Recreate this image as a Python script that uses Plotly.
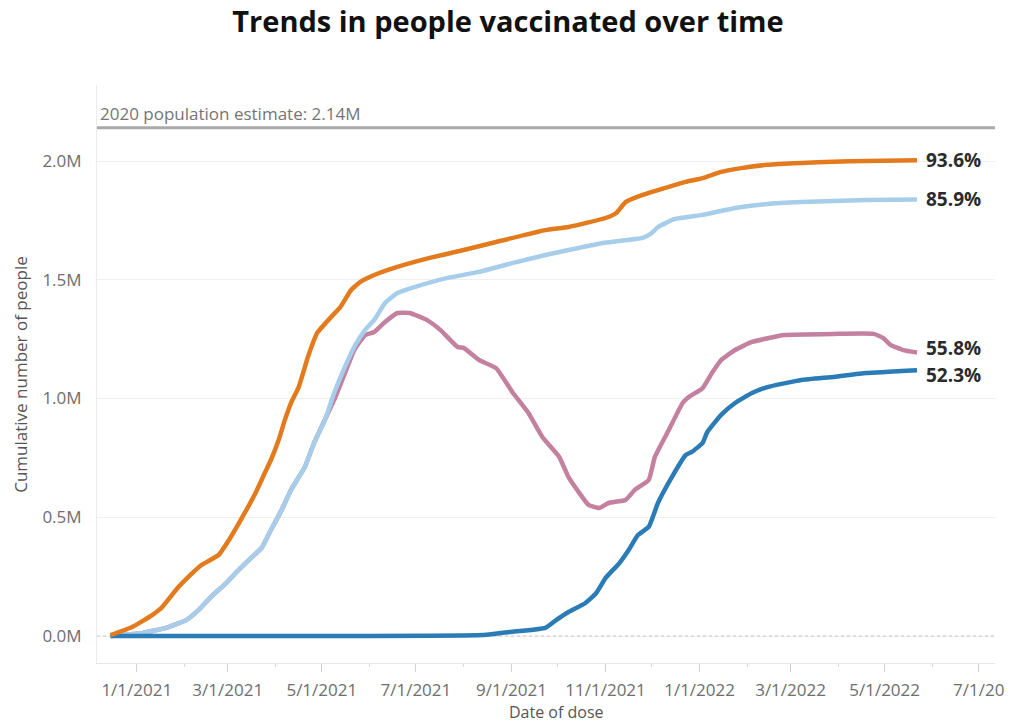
import plotly.graph_objects as go

# Cumulative people vaccinated (millions) by date of dose
POPULATION_M = 2.14

at_least_one_dates = [
    "2020-12-15", "2020-12-29", "2021-01-11", "2021-01-17", "2021-01-28", "2021-02-06",
    "2021-02-12", "2021-02-23", "2021-03-03", "2021-03-12", "2021-03-19", "2021-03-25",
    "2021-03-29", "2021-04-03", "2021-04-07", "2021-04-11", "2021-04-16", "2021-04-22",
    "2021-04-28", "2021-05-07", "2021-05-13", "2021-05-20", "2021-05-26", "2021-06-04",
    "2021-06-19", "2021-07-10", "2021-08-01", "2021-08-22", "2021-09-23", "2021-10-08",
    "2021-11-01", "2021-11-08", "2021-11-14", "2021-11-25", "2021-12-12", "2021-12-23",
    "2022-01-03", "2022-01-15", "2022-01-28", "2022-02-14", "2022-03-08", "2022-03-29",
    "2022-04-19", "2022-05-22",
]
at_least_one_values = [
    0.004, 0.038, 0.088, 0.118, 0.206, 0.265,
    0.299, 0.341, 0.417, 0.518, 0.602, 0.686,
    0.741, 0.825, 0.909, 0.981, 1.048, 1.175,
    1.276, 1.343, 1.385, 1.457, 1.491, 1.520,
    1.554, 1.592, 1.625, 1.659, 1.709, 1.722,
    1.760, 1.781, 1.827, 1.857, 1.891, 1.912,
    1.928, 1.954, 1.970, 1.984, 1.992, 1.997,
    2.000, 2.003,
]

completed_dates = [
    "2020-12-15", "2021-01-05", "2021-01-20", "2021-02-02", "2021-02-10", "2021-02-18",
    "2021-02-28", "2021-03-08", "2021-03-16", "2021-03-23", "2021-03-29", "2021-04-05",
    "2021-04-11", "2021-04-20", "2021-04-26", "2021-05-03", "2021-05-09", "2021-05-16",
    "2021-05-22", "2021-05-29", "2021-06-04", "2021-06-11", "2021-06-19", "2021-06-30",
    "2021-07-21", "2021-08-11", "2021-09-02", "2021-09-23", "2021-10-08", "2021-10-30",
    "2021-11-25", "2021-12-01", "2021-12-05", "2021-12-16", "2022-01-03", "2022-01-24",
    "2022-02-14", "2022-03-08", "2022-04-19", "2022-05-22",
]
completed_values = [
    0.000, 0.013, 0.034, 0.067, 0.109, 0.164,
    0.223, 0.278, 0.328, 0.371, 0.446, 0.531,
    0.615, 0.712, 0.813, 0.909, 1.023, 1.133,
    1.217, 1.288, 1.331, 1.402, 1.444, 1.469,
    1.507, 1.533, 1.571, 1.604, 1.625, 1.655,
    1.676, 1.697, 1.722, 1.756, 1.773, 1.802,
    1.819, 1.827, 1.836, 1.838,
]

up_to_date_dates = [
    "2020-12-15", "2021-01-05", "2021-01-20", "2021-02-02", "2021-02-10", "2021-02-18",
    "2021-02-28", "2021-03-08", "2021-03-16", "2021-03-23", "2021-03-29", "2021-04-05",
    "2021-04-11", "2021-04-20", "2021-04-26", "2021-05-09", "2021-05-16", "2021-05-22",
    "2021-05-29", "2021-06-04", "2021-06-11", "2021-06-19", "2021-06-27", "2021-07-08",
    "2021-07-17", "2021-07-28", "2021-08-01", "2021-08-11", "2021-08-22", "2021-09-02",
    "2021-09-12", "2021-09-21", "2021-10-02", "2021-10-08", "2021-10-21", "2021-10-28",
    "2021-11-03", "2021-11-14", "2021-11-20", "2021-11-29", "2021-12-03", "2021-12-12",
    "2021-12-21", "2021-12-25", "2022-01-03", "2022-01-09", "2022-01-15", "2022-01-24",
    "2022-02-04", "2022-02-25", "2022-03-29", "2022-04-24", "2022-04-30", "2022-05-05",
    "2022-05-13", "2022-05-22",
]
up_to_date_values = [
    0.000, 0.013, 0.034, 0.067, 0.109, 0.164,
    0.223, 0.278, 0.328, 0.371, 0.446, 0.531,
    0.615, 0.712, 0.813, 0.994, 1.107, 1.204,
    1.267, 1.280, 1.322, 1.360, 1.360, 1.331,
    1.288, 1.217, 1.213, 1.162, 1.128, 1.023,
    0.939, 0.838, 0.754, 0.669, 0.552, 0.539,
    0.560, 0.573, 0.615, 0.657, 0.754, 0.867,
    0.981, 1.006, 1.044, 1.107, 1.162, 1.204,
    1.238, 1.267, 1.272, 1.272, 1.255, 1.225,
    1.204, 1.194,
]

booster_dates = [
    "2020-12-15", "2021-08-14", "2021-08-31", "2021-09-23", "2021-09-30", "2021-10-08",
    "2021-10-19", "2021-10-26", "2021-11-01", "2021-11-10", "2021-11-16", "2021-11-22",
    "2021-11-29", "2021-12-05", "2021-12-14", "2021-12-23", "2021-12-27", "2022-01-03",
    "2022-01-06", "2022-01-15", "2022-01-24", "2022-02-04", "2022-02-14", "2022-03-08",
    "2022-03-29", "2022-04-19", "2022-05-22",
]
booster_values = [
    0.000, 0.004, 0.017, 0.034, 0.067, 0.101,
    0.139, 0.181, 0.244, 0.307, 0.362, 0.425,
    0.459, 0.560, 0.669, 0.762, 0.775, 0.813,
    0.859, 0.931, 0.981, 1.023, 1.048, 1.078,
    1.091, 1.107, 1.119,
]

x_tick_dates = [
    "2021-01-01", "2021-03-01", "2021-05-01", "2021-07-01", "2021-09-01",
    "2021-11-01", "2022-01-01", "2022-03-01", "2022-05-01", "2022-07-01",
]
x_tick_labels = [
    "1/1/2021", "3/1/2021", "5/1/2021", "7/1/2021", "9/1/2021",
    "11/1/2021", "1/1/2022", "3/1/2022", "5/1/2022", "7/1/20",
]
y_tick_values = [0.0, 0.5, 1.0, 1.5, 2.0]
y_tick_labels = ["0.0M", "0.5M", "1.0M", "1.5M", "2.0M"]

# (name, dates, values, colour, vertical nudge of the end label in px)
series = [
    ("Up to date", up_to_date_dates, up_to_date_values, "#c4809f", 4.5),
    ("Completed series", completed_dates, completed_values, "#a6cdea", 0),
    ("Booster", booster_dates, booster_values, "#2a7bb6", -4.5),
    ("At least one dose", at_least_one_dates, at_least_one_values, "#e37b1e", 0),
]

FONT = "Open Sans, Noto Sans, sans-serif"
TICK_FONT = dict(family=FONT, size=17, color="#6e6e6e")
x_start, x_end = "2020-12-06 05:00", "2022-07-11 14:00"

fig = go.Figure()

# population reference line
fig.add_trace(go.Scatter(
    x=[x_start, x_end], y=[POPULATION_M, POPULATION_M], mode="lines",
    line=dict(color="#a9a9a9", width=3), hoverinfo="skip", showlegend=False,
))
# dotted zero baseline
fig.add_trace(go.Scatter(
    x=[x_start, x_end], y=[0, 0], mode="lines",
    line=dict(color="#c4c4c4", width=1, dash="dot"), hoverinfo="skip", showlegend=False,
))

for name, xs, ys, color, _ in series:
    fig.add_trace(go.Scatter(
        x=xs, y=ys, mode="lines", name=name,
        line=dict(color=color, width=4.5, shape="spline", smoothing=0.4), showlegend=False,
    ))

annotations = []
for name, xs, ys, color, nudge in series:
    pct = ys[-1] / POPULATION_M * 100
    annotations.append(dict(
        x=xs[-1], y=ys[-1], xref="x", yref="y", text=f"{pct:.1f}%",
        showarrow=False, xanchor="left", yanchor="middle", xshift=7, yshift=nudge,
        font=dict(family=FONT, size=19, color="#2b2b2b", weight="bold"),
    ))

annotations.append(dict(
    x=x_start, y=POPULATION_M, xref="x", yref="y", xanchor="left", yanchor="bottom",
    xshift=1, yshift=1, showarrow=False, text=f"2020 population estimate: {POPULATION_M:.2f}M",
    font=dict(family=FONT, size=17, color="#757575"),
))
annotations.append(dict(
    x=-0.086, y=0.5, xref="paper", yref="paper", textangle=-90, showarrow=False,
    xanchor="center", yanchor="middle", text="Cumulative number of people",
    font=dict(family=FONT, size=17, color="#555555"),
))
annotations.append(dict(
    x=0.512, y=-0.085, xref="paper", yref="paper", showarrow=False,
    xanchor="center", yanchor="middle", text="Date of dose",
    font=dict(family=FONT, size=16, color="#555555"),
))

fig.update_layout(
    width=1016, height=723,
    margin=dict(l=97, r=13, t=85, b=60),
    paper_bgcolor="white", plot_bgcolor="white",
    title=dict(
        text="<b>Trends in people vaccinated over time</b>",
        x=0.5, xanchor="center", y=0.97, yanchor="middle",
        font=dict(family=FONT, size=29, color="#111111"),
    ),
    annotations=annotations,
    xaxis=dict(
        type="date", range=[x_start, x_end],
        tickvals=x_tick_dates, ticktext=x_tick_labels,
        ticks="outside", ticklen=8, tickcolor="#d0d0d0", tickwidth=1,
        ticklabelstandoff=4,
        minor=dict(dtick="M1", ticks="outside", ticklen=3, tickcolor="#d8d8d8", showgrid=False),
        showgrid=False, showline=True, linecolor="#e6e6e6", linewidth=1,
        tickfont=TICK_FONT, zeroline=False,
    ),
    yaxis=dict(
        range=[-0.1137, 2.32],
        tickvals=y_tick_values, ticktext=y_tick_labels,
        ticks="", ticklabelstandoff=11,
        showgrid=True, gridcolor="#f0f0f0", gridwidth=1,
        showline=True, linecolor="#ececec", linewidth=1,
        zeroline=False, tickfont=TICK_FONT,
    ),
)

fig.write_html("out.html")
